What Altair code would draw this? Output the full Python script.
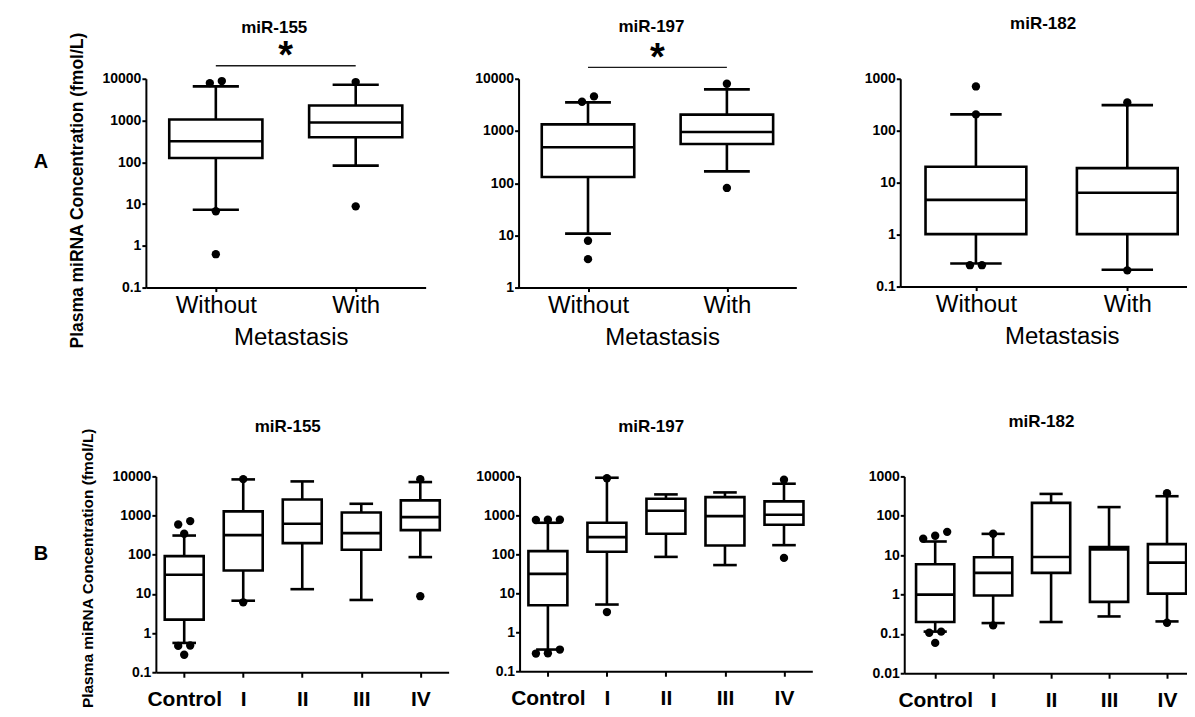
import math
import altair as alt
import pandas as pd

FONT = "Liberation Sans"

# ---------------- Row A : by metastasis ----------------
meta_cats = ["Without", "With"]

a155_q1 = [127, 398]
a155_med = [319, 895]
a155_q3 = [1057, 2290]
a155_lo = [7.3, 83]
a155_hi = [6550, 7180]
a155_out_grp = [0, 0, 0, 0, 1, 1]
a155_out_val = [7870, 8790, 6.7, 0.63, 8320, 8.8]

a197_q1 = [131, 562]
a197_med = [486, 953]
a197_q3 = [1337, 2050]
a197_lo = [10.8, 168]
a197_hi = [3520, 6250]
a197_out_grp = [0, 0, 0, 0, 1, 1]
a197_out_val = [3630, 4590, 7.9, 3.5, 8020, 81]

a182_q1 = [1.02, 1.02]
a182_med = [4.67, 6.37]
a182_q3 = [20.2, 19.0]
a182_lo = [0.277, 0.21]
a182_hi = [206, 311]
a182_out_grp = [0, 0, 0, 0, 1, 1]
a182_out_val = [711, 206, 0.258, 0.258, 350, 0.205]

# ---------------- Row B : by stage ----------------
stage_cats = ["Control", "I", "II", "III", "IV"]

b155_q1 = [2.2, 39.6, 198, 134, 426]
b155_med = [30.7, 316, 617, 356, 914]
b155_q3 = [92, 1277, 2580, 1200, 2440]
b155_lo = [0.56, 6.7, 13.2, 7.0, 87]
b155_hi = [309, 8380, 7450, 2000, 7170]
b155_out_grp = [0, 0, 0, 0, 0, 0, 1, 1, 4, 4]
b155_out_val = [593, 723, 343, 0.48, 0.47, 0.28, 8500, 6.1, 8500, 8.75]

b197_q1 = [4.95, 116, 337, 169, 574]
b197_med = [31.6, 277, 1313, 957, 1036]
b197_q3 = [121, 646, 2670, 2940, 2280]
b197_lo = [0.36, 5.15, 86, 53, 172]
b197_hi = [646, 9240, 3450, 3880, 6490]
b197_out_grp = [0, 0, 0, 0, 0, 0, 1, 1, 4, 4]
b197_out_val = [771, 760, 771, 0.36, 0.284, 0.29, 9000, 3.3, 8210, 81]

b182_q1 = [0.2, 0.94, 3.55, 0.65, 1.05]
b182_med = [0.99, 3.55, 8.97, 14, 6.46]
b182_q3 = [5.87, 8.8, 213, 16, 19]
b182_lo = [0.114, 0.188, 0.2, 0.277, 0.207]
b182_hi = [22.2, 34.7, 359, 166, 314]
b182_out_grp = [0, 0, 0, 0, 0, 0, 1, 1, 4, 4]
b182_out_val = [31, 26, 39, 0.114, 0.107, 0.059, 35, 0.164, 373, 0.192]

YTITLE = "Plasma miRNA Concentration (fmol/L)"


def arrange(groups, values, px_per_dec, px_per_unit, thr_px=8.0, gap_px=12.0):
    """Place outlier dots side by side when they would overlap (scatter-dot layout)."""
    xs = [0.0] * len(values)
    by = {}
    for i, g in enumerate(groups):
        by.setdefault(g, []).append(i)
    for g, idxs in by.items():
        idxs = sorted(idxs, key=lambda k: values[k])
        clusters = []
        for k in idxs:
            if clusters and (math.log10(values[k]) - math.log10(values[clusters[-1][-1]])) * px_per_dec < thr_px:
                clusters[-1].append(k)
            else:
                clusters.append([k])
        for cl in clusters:
            n = len(cl)
            for j, k in enumerate(cl):
                xs[k] = g + (j - (n - 1) / 2) * gap_px / px_per_unit
    return xs


def make_panel(cats, q1, med, q3, lo, hi, og, ov, W, H, xdom, ydom, yvals,
               title, tx, ty, row, box_half, cap_half, xtitle_x=None,
               ytitle=None, letter=None, sig=None):
    n = len(cats)
    box = pd.DataFrame({"i": list(range(n)), "q1": q1, "med": med, "q3": q3, "lo": lo, "hi": hi})
    px_per_unit = W / (xdom[1] - xdom[0])
    px_per_dec = H / (math.log10(ydom[1]) - math.log10(ydom[0]))
    outl = pd.DataFrame({"x": arrange(og, ov, px_per_dec, px_per_unit), "v": ov})

    lab_js = "[" + ",".join("'%s'" % c for c in cats) + "][datum.value]"
    common_x = dict(values=list(range(n)), labelExpr=lab_js, labelOverlap=False,
                    labelFlush=False, grid=False)
    if row == "A":
        xaxis = alt.Axis(title="Metastasis", labelFontSize=24, labelFontWeight="normal",
                         labelPadding=2, tickSize=4, titleFontSize=24, titleFontWeight="normal",
                         titleX=xtitle_x, titleY=38, titleBaseline="top", **common_x)
    else:
        xaxis = alt.Axis(title=None, labelFontSize=21, labelFontWeight="bold",
                         labelPadding=11, tickSize=5, **common_x)
    common_y = dict(values=yvals, format="~g", labelFontSize=14, labelFontWeight="bold",
                    labelPadding=1, tickSize=4, labelFlush=False, labelOverlap=False, grid=False)
    if ytitle is not None:
        yaxis = alt.Axis(title=YTITLE, titleFontSize=ytitle[0], titleFontWeight="bold",
                         titleX=-68, titleY=ytitle[1], titleBaseline="middle", **common_y)
    else:
        yaxis = alt.Axis(title=None, **common_y)

    xs_ = alt.Scale(domain=xdom, nice=False, zero=False)
    ys_ = alt.Scale(type="log", domain=ydom, nice=False)

    def X(f):
        return alt.X(f, type="quantitative", scale=xs_, axis=xaxis)

    def Y(f):
        return alt.Y(f, type="quantitative", scale=ys_, axis=yaxis)

    base = alt.Chart(box).transform_calculate(
        bl=f"datum.i - {box_half}", br=f"datum.i + {box_half}",
        cl=f"datum.i - {cap_half}", cr=f"datum.i + {cap_half}")
    sw = 2.6
    stem = base.mark_rule(color="black", strokeWidth=sw).encode(x=X("i"), y=Y("lo"), y2="hi")
    cap_lo = base.mark_rule(color="black", strokeWidth=sw).encode(x=X("cl"), x2="cr", y=Y("lo"))
    cap_hi = base.mark_rule(color="black", strokeWidth=sw).encode(x=X("cl"), x2="cr", y=Y("hi"))
    boxes = base.mark_rect(fill="white", stroke="black", strokeWidth=sw).encode(
        x=X("bl"), x2="br", y=Y("q1"), y2="q3")
    medl = base.mark_rule(color="black", strokeWidth=sw).encode(x=X("bl"), x2="br", y=Y("med"))
    dots = alt.Chart(outl).mark_circle(size=70, color="black", opacity=1).encode(x=X("x"), y=Y("v"))
    ttl = alt.Chart(pd.DataFrame({"t": [title]})).mark_text(
        font=FONT, fontSize=17, fontWeight="bold", color="black", baseline="middle").encode(
        x=alt.value(tx), y=alt.value(ty), text="t:N")
    layers = [stem, cap_lo, cap_hi, boxes, medl, dots, ttl]
    if sig is not None:
        sdf = pd.DataFrame({"x0": [0], "x1": [1], "xm": [0.5], "s": ["*"]})
        layers.append(alt.Chart(sdf).mark_rule(color="#1a1a1a", strokeWidth=1.3).encode(
            x=X("x0"), x2="x1", y=alt.value(sig[0])))
        layers.append(alt.Chart(sdf).mark_text(font=FONT, fontSize=38, fontWeight="bold",
                                               color="black", baseline="top").encode(
            x=X("xm"), y=alt.value(sig[1]), text="s:N"))
    if letter is not None:
        layers.append(alt.Chart(pd.DataFrame({"t": [letter[0]]})).mark_text(
            font=FONT, fontSize=20, fontWeight="bold", color="black", baseline="middle").encode(
            x=alt.value(letter[1]), y=alt.value(letter[2]), text="t:N"))
    return alt.layer(*layers).properties(width=W, height=H)


def gap(w):
    """Empty spacer cell of a given width, used to set the distance between panels."""
    return alt.Chart(pd.DataFrame({"s": [0]})).mark_point(opacity=0, size=1).encode(
        x=alt.value(0), y=alt.value(0)).properties(width=w, height=1)


A1 = make_panel(meta_cats, a155_q1, a155_med, a155_q3, a155_lo, a155_hi, a155_out_grp, a155_out_val,
                W=280, H=209, xdom=[-0.5, 1.5], ydom=[0.1, 10000], yvals=[0.1, 1, 10, 100, 1000, 10000],
                title="miR-155", tx=128.5, ty=-51, row="A", box_half=0.333, cap_half=0.165,
                xtitle_x=145, ytitle=(17.5, 111.5), letter=("A", -105, 83), sig=(-13, -40.3))
A2 = make_panel(meta_cats, a197_q1, a197_med, a197_q3, a197_lo, a197_hi, a197_out_grp, a197_out_val,
                W=278, H=209, xdom=[-0.5, 1.5], ydom=[1, 10000], yvals=[1, 10, 100, 1000, 10000],
                title="miR-197", tx=133, ty=-51.5, row="A", box_half=0.333, cap_half=0.165,
                xtitle_x=143.7, sig=(-11.3, -38.9))
A3 = make_panel(meta_cats, a182_q1, a182_med, a182_q3, a182_lo, a182_hi, a182_out_grp, a182_out_val,
                W=303, H=208, xdom=[-0.5, 1.5], ydom=[0.1, 1000], yvals=[0.1, 1, 10, 100, 1000],
                title="miR-182", tx=143, ty=-54.5, row="A", box_half=0.333, cap_half=0.17,
                xtitle_x=161.7)

B1 = make_panel(stage_cats, b155_q1, b155_med, b155_q3, b155_lo, b155_hi, b155_out_grp, b155_out_val,
                W=293, H=196, xdom=[-0.48, 4.48], ydom=[0.1, 10000], yvals=[0.1, 1, 10, 100, 1000, 10000],
                title="miR-155", tx=132, ty=-49.5, row="B", box_half=0.33, cap_half=0.2,
                ytitle=(15.5, 91.5), letter=("B", -115, 77.5))
B2 = make_panel(stage_cats, b197_q1, b197_med, b197_q3, b197_lo, b197_hi, b197_out_grp, b197_out_val,
                W=293, H=195, xdom=[-0.48, 4.48], ydom=[0.1, 10000], yvals=[0.1, 1, 10, 100, 1000, 10000],
                title="miR-197", tx=131.7, ty=-49.5, row="B", box_half=0.33, cap_half=0.2)
B3 = make_panel(stage_cats, b182_q1, b182_med, b182_q3, b182_lo, b182_hi, b182_out_grp, b182_out_val,
                W=300, H=197, xdom=[-0.534, 4.638], ydom=[0.01, 1000], yvals=[0.01, 0.1, 1, 10, 100, 1000],
                title="miR-182", tx=137.3, ty=-54.5, row="B", box_half=0.33, cap_half=0.2)

rowA = alt.hconcat(A1, gap(93), A2, gap(104), A3, spacing=0, bounds="flush")
rowB = alt.hconcat(gap(10), B1, gap(70.3), B2, gap(91.4), B3, spacing=0, bounds="flush")

chart = alt.vconcat(rowA, rowB, spacing=63).properties(
    padding={"left": 25, "top": 6.5, "right": -17, "bottom": -1}
).configure(font=FONT).configure_view(strokeWidth=0).configure_axis(
    domainColor="black", domainWidth=2, tickColor="black", tickWidth=2,
    labelColor="black", titleColor="black", labelFont=FONT, titleFont=FONT, grid=False)

chart.save("out.html", embed_options={"renderer": "svg", "actions": False})
